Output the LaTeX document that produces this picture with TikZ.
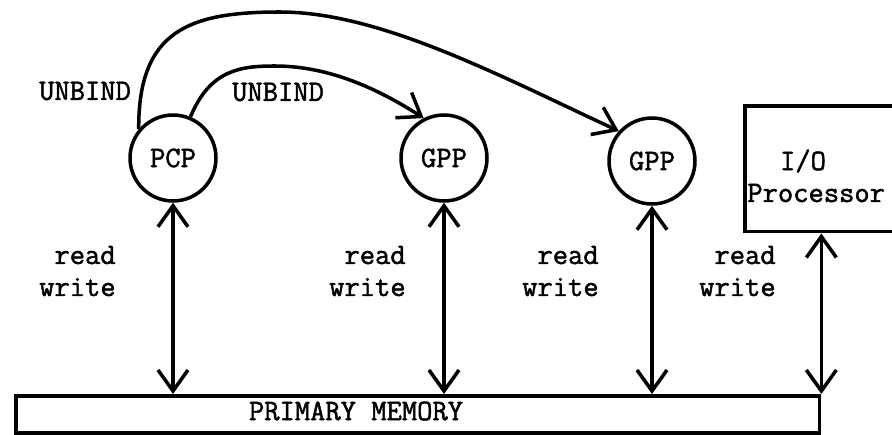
\documentclass[tikz,border=0pt]{standalone}
\usepackage{fontspec}
\usetikzlibrary{arrows.meta,positioning}
\newfontfamily\twfam[FakeBold=1.6]{Latin Modern Mono}
\newcommand{\twfont}{\twfam\fontsize{16.9}{18.2}\selectfont}
\tikzset{
  proc/.style={circle, draw, line width=2pt, minimum size=1.72cm, inner sep=0pt, font=\twfont},
  lbl/.style={inner sep=0pt, font=\twfont},
  rw/.style={lbl, align=right, anchor=east},
  link/.style={line width=2pt, -{Straight Barb[length=0.42cm,width=0.6cm]}},
  biarrow/.style={line width=2pt, {Straight Barb[length=0.42cm,width=0.6cm]}-{Straight Barb[length=0.42cm,width=0.6cm]}},
}
\begin{document}
\begin{tikzpicture}[x=0.02cm, y=-0.02cm]
  \clip (0,0) rectangle (892,435);
  \node[proc] (pcp) at (173,158) {PCP};
  \node[proc] (gpp1) at (444,158) {GPP};
  \node[proc] (gpp2) at (652,161) {GPP};
  \node[draw, line width=2pt, anchor=north west, minimum width=4cm, minimum height=2.52cm] (io) at (743,104) {};
  \node[lbl] (iotxt) at (803,161) {I/O};
  \node[lbl, anchor=west] (proctxt) at (747,193) {Processor};
  \node[draw, line width=2pt, anchor=north west, minimum width=16.08cm, minimum height=0.74cm] (mem) at (14,394) {};
  \node[lbl] (memtxt) at (356,411) {PRIMARY MEMORY};
  % UNBIND arcs
  \draw[link] (pcp.140) .. controls (138,30) and (190,12) .. (280,12) .. controls (380,12) and (500,76) .. (gpp2.138);
  \draw[link] (pcp.67) .. controls (210,70) and (240,66) .. (275,66) .. controls (330,66) and (380,90) .. (gpp1.117);
  \node[lbl] (unb1) at (85,91) {UNBIND};
  \node[lbl] (unb2) at (278,92) {UNBIND};
  % memory access
  \draw[biarrow] (pcp.south) -- (pcp.south |- mem.north);
  \draw[biarrow] (gpp1.south) -- (gpp1.south |- mem.north);
  \draw[biarrow] (gpp2.south) -- (gpp2.south |- mem.north);
  \draw[biarrow] (mem.north east |- io.south) -- (mem.north east);
  \node[rw] (rw1) at (116,271) {read\\write};
  \node[rw] (rw2) at (406,271) {read\\write};
  \node[rw] (rw3) at (599,271) {read\\write};
  \node[rw] (rw4) at (776,271) {read\\write};
\end{tikzpicture}
\end{document}
